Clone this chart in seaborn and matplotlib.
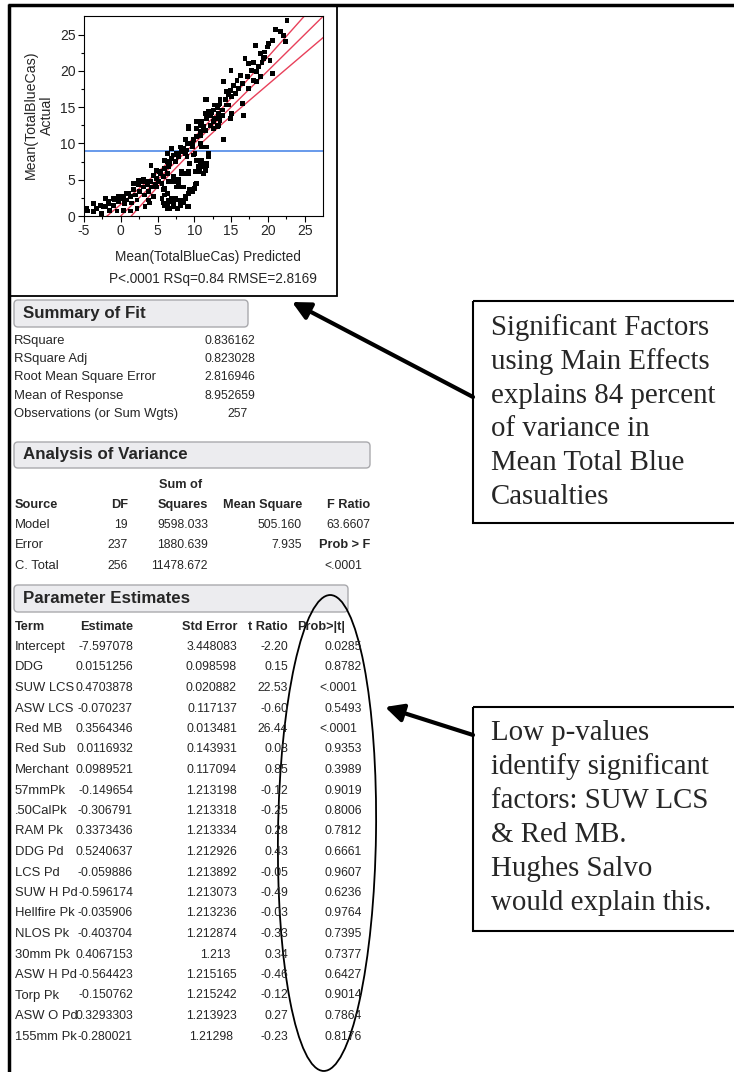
import matplotlib
matplotlib.use("Agg")
import matplotlib.pyplot as plt
import seaborn as sns
import pandas as pd
from matplotlib.patches import FancyBboxPatch, Rectangle, Ellipse

W, H = 734, 1072

# actual by predicted points
pred = [-5.1, -4.5, -3.7, -3.3, -2.8, -2.6, -2.1, -2.0, -1.7, -1.5, -1.0, -0.8, -0.5, -0.3, -0.1,
        0.3, 0.5, 0.8, 1.0, 1.3, 1.5, 1.7, 2.0, 2.2, 2.4, 2.5, 2.9, 3.1, 3.2, 3.5, 3.6, 3.8, 3.9,
        4.0, 4.2, 4.1, 4.5, 4.7, 4.9, 5.1, 5.4, 5.6, 5.8, 4.9, 4.5, 3.8, 3.3, 2.2, 1.3, 0.4, -1.0,
        1.7, 2.4, 3.1, 5.3, 6.0, 6.3, 4.9, 5.8, 5.6, 0.8, 0.35, -4.6, -3.7, -2.4, -1.7, -0.3,
        5.8, 6.0, 6.3, 6.5, 6.7, 6.9, 7.2, 7.4, 7.7, 8.1, 8.3, 8.5, 8.8, 9.0, 9.2, 9.4, 9.7, 10.0,
        10.3, 6.3, 6.0, 6.5, 6.9, 7.2, 7.6, 7.9, 8.3, 8.8, 9.2, 9.4, 8.3, 6.3, 6.5, 6.7, 6.9, 7.2,
        7.4, 7.6, 7.9, 8.1, 8.3, 8.5, 8.8, 9.0, 9.2, 9.0, 9.4, 9.7, 9.9, 10.1, 10.3, 10.6, 10.8,
        11.0, 11.3, 11.5, 11.7, 11.9, 11.7, 11.9, 11.3, 10.7, 10.3, 10.8, 10.8, 11.0,
        6.0, 6.3, 7.2, 6.9, 8.75, 9.0, 9.2, 10.3, 11.0, 11.25, 10.8, 9.7, 9.9, 11.9, 11.7, 10.8,
        10.1, 9.2, 8.3, 7.8, 7.2, 6.5, 7.6, 8.5, 9.7, 10.1, 6.0, 6.9, 7.8, 8.75, 6.3, 7.2, 8.1,
        9.2, 11.5, 12.4, 12.8, 13.5, 14.6, 15.1, 13.3, 11.5,
        10.8, 11.0, 11.3, 11.5, 11.7, 11.7, 11.9, 12.2, 12.6, 12.8, 13.1, 13.3, 13.5, 13.8, 14.0,
        14.0, 14.2, 14.4, 14.7, 14.9, 15.0, 15.1, 15.3, 15.6, 15.8, 16.0, 16.3, 16.5, 16.7, 16.5,
        16.9, 17.2, 17.4, 13.3, 12.6, 13.5, 10.8, 10.3, 12.6, 12.2, 13.1, 13.3, 13.8, 14.4, 14.9,
        18.1, 18.3, 18.5, 18.7, 19.0, 19.2, 19.4, 19.6, 19.9, 20.1, 20.3, 20.6, 20.6, 21.0, 21.7,
        22.1, 22.4, 22.6, 19.0, 19.6, 17.8, 18.1, 17.4, 18.5]
actual = [1.0, 0.7, 1.7, 1.0, 1.5, 0.4, 2.4, 1.3, 2.0, 0.8, 1.5, 2.2, 0.7, 2.0, 2.4,
          2.7, 1.7, 2.2, 3.1, 2.7, 1.8, 3.6, 2.9, 2.2, 4.3, 3.4, 4.7, 4.0, 2.9, 4.7, 4.3, 3.4, 1.8,
          4.7, 4.0, 7.0, 2.7, 4.3, 5.2, 4.7, 5.9, 4.5, 5.4, 6.3, 5.6, 2.2, 1.3, 1.0, 0.7, 0.8, 2.4,
          4.5, 4.9, 5.0, 6.1, 6.6, 7.5, 4.0, 3.6, 2.4, 3.1, 2.4, 1.1, 0.6, 1.3, 1.7, 2.7,
          1.8, 1.5, 1.0, 2.2, 1.0, 2.0, 1.8, 2.4, 1.0, 1.8, 2.2, 1.8, 2.7, 1.3, 3.1, 3.6, 3.4, 3.8,
          4.5, 3.1, 3.8, 4.7, 4.7, 5.4, 4.7, 4.3, 4.0, 5.9, 5.9, 7.2, 5.9, 5.9, 6.8, 7.2, 7.9, 8.4,
          7.5, 8.6, 8.2, 9.5, 8.9, 9.3, 8.6, 9.1, 12.1, 8.2, 10.0, 9.5, 10.5, 8.6, 7.7, 6.8, 6.8,
          7.7, 7.0, 6.3, 7.2, 8.2, 9.5, 8.6, 5.9, 6.1, 10.9, 11.1, 10.0, 9.5,
          7.7, 8.6, 8.4, 9.3, 10.5, 10.0, 12.3, 13.0, 12.5, 11.8, 11.4, 10.0, 8.4, 8.4, 7.0, 7.25,
          6.1, 6.1, 6.1, 5.0, 4.7, 4.7, 4.0, 4.0, 3.6, 4.3, 2.9, 2.4, 2.2, 2.4, 1.75, 1.3, 1.5,
          1.3, 14.1, 14.3, 15.3, 15.5, 15.3, 14.1, 13.4, 16.0,
          12.5, 13.0, 12.3, 11.8, 16.0, 13.4, 14.4, 13.9, 14.6, 13.4, 15.0, 14.1, 13.2, 14.6, 10.5,
          18.5, 16.0, 17.1, 16.7, 17.3, 20.1, 16.5, 18.0, 16.9, 18.7, 17.6, 19.4, 18.3, 13.9, 15.5,
          21.7, 19.2, 17.6, 12.5, 13.0, 16.0, 11.6, 12.1, 12.1, 12.5, 12.3, 15.3, 13.9, 15.3, 13.4,
          21.2, 23.5, 19.9, 20.6, 19.2, 21.2, 21.7, 21.9, 23.3, 23.8, 21.4, 19.6, 24.2, 25.7, 25.4,
          24.9, 24.0, 26.9, 22.4, 22.6, 20.1, 18.7, 21.0, 18.5]

# fit line and its confidence curves
fit_x = [-5, 0, 5, 9, 14, 20, 28]
fit_upper = [-2.7, 1.6, 6.0, 9.8, 15.1, 21.9, 31.0]
fit_lower = [-7.3, -1.6, 4.0, 8.2, 12.9, 18.1, 25.0]

# summary of fit
fit_labels = ["RSquare", "RSquare Adj", "Root Mean Square Error", "Mean of Response",
              "Observations (or Sum Wgts)"]
fit_values = ["0.836162", "0.823028", "2.816946", "8.952659", "257"]
mean_response = 8.952659

# analysis of variance
anova_source = ["Model", "Error", "C. Total"]
anova_df = ["19", "237", "256"]
anova_ss = ["9598.033", "1880.639", "11478.672"]
anova_ms = ["505.160", "7.935", ""]
anova_f = ["63.6607", "Prob > F", "<.0001"]

# parameter estimates
terms = ["Intercept", "DDG", "SUW LCS", "ASW LCS", "Red MB", "Red Sub", "Merchant", "57mmPk",
         ".50CalPk", "RAM Pk", "DDG Pd", "LCS Pd", "SUW H Pd", "Hellfire Pk", "NLOS Pk",
         "30mm Pk", "ASW H Pd", "Torp Pk", "ASW O Pd", "155mm Pk"]
estimates = ["-7.597078", "0.0151256", "0.4703878", "-0.070237", "0.3564346", "0.0116932",
             "0.0989521", "-0.149654", "-0.306791", "0.3373436", "0.5240637", "-0.059886",
             "-0.596174", "-0.035906", "-0.403704", "0.4067153", "-0.564423", "-0.150762",
             "0.3293303", "-0.280021"]
std_errors = ["3.448083", "0.098598", "0.020882", "0.117137", "0.013481", "0.143931",
              "0.117094", "1.213198", "1.213318", "1.213334", "1.212926", "1.213892",
              "1.213073", "1.213236", "1.212874", "1.213", "1.215165", "1.215242",
              "1.213923", "1.21298"]
t_ratios = ["-2.20", "0.15", "22.53", "-0.60", "26.44", "0.08", "0.85", "-0.12", "-0.25",
            "0.28", "0.43", "-0.05", "-0.49", "-0.03", "-0.33", "0.34", "-0.46", "-0.12",
            "0.27", "-0.23"]
p_values = ["0.0285", "0.8782", "<.0001", "0.5493", "<.0001", "0.9353", "0.3989", "0.9019",
            "0.8006", "0.7812", "0.6661", "0.9607", "0.6236", "0.9764", "0.7395", "0.7377",
            "0.6427", "0.9014", "0.7864", "0.8176"]

note_fit = ["Significant Factors", "using Main Effects", "explains 84 percent",
            "of variance in", "Mean Total Blue", "Casualties"]
note_p = ["Low p-values", "identify significant", "factors: SUW LCS", "& Red MB.",
          "Hughes Salvo", "would explain this."]

sns.set_theme(style="ticks")
plt.rcParams["font.family"] = ["Liberation Sans", "DejaVu Sans"]
plt.rcParams["axes.unicode_minus"] = False

fig = plt.figure(figsize=(W / 100, H / 100), dpi=100)

# overlay in pixel coordinates for the report text
ov = fig.add_axes([0, 0, 1, 1])
ov.set_xlim(0, W)
ov.set_ylim(H, 0)
ov.axis("off")

# actual by predicted plot
ax = fig.add_axes([84 / W, 1 - 216 / H, (323 - 84) / W, (216 - 15.7) / H])
df = pd.DataFrame({"pred": pred, "actual": actual})
ax.axhline(mean_response, color="#3f7fe6", lw=1.1, zorder=1)
for ys in (fit_upper, fit_x, fit_lower):
    ax.plot(fit_x, ys, color="#e8405a", lw=1.0, zorder=2)
sns.scatterplot(data=df, x="pred", y="actual", marker="s", s=12, color="black",
                edgecolor="none", ax=ax, zorder=3)
ax.set_xlim(-5, 27.5)
ax.set_ylim(0, 27.6)
ax.set_xticks([-5, 0, 5, 10, 15, 20, 25])
ax.set_yticks([0, 5, 10, 15, 20, 25])
ax.set_xticks([-2.5, 2.5, 7.5, 12.5, 17.5, 22.5], minor=True)
ax.set_yticks([2.5, 7.5, 12.5, 17.5, 22.5], minor=True)
ax.tick_params(which="major", length=4, width=0.8, labelsize=10, pad=2, color="black")
ax.tick_params(which="minor", length=2.5, width=0.8, color="black")
ax.set_xlabel("")
ax.set_ylabel("")
for sp in ax.spines.values():
    sp.set_visible(True)
    sp.set_color("black")
    sp.set_linewidth(0.8)

ov.text(39, 115, "Mean(TotalBlueCas)\nActual", rotation=90, ha="center", va="center",
        fontsize=10.2, linespacing=1.2)
ov.text(208, 257, "Mean(TotalBlueCas) Predicted", ha="center", va="center", fontsize=9.8)
ov.text(213, 279, "P<.0001 RSq=0.84 RMSE=2.8169", ha="center", va="center", fontsize=9.8)

# frame lines
ov.plot([8, W], [5, 5], color="black", lw=2.5, solid_capstyle="butt")
ov.plot([8.5, 8.5], [4, H], color="black", lw=2.5, solid_capstyle="butt")
ov.add_patch(Rectangle((10, 5), 327, 291, fill=False, ec="black", lw=1.3))


def header(x0, y0, x1, y1, label):
    ov.add_patch(FancyBboxPatch((x0, y0), x1 - x0, y1 - y0,
                                boxstyle="round,pad=0,rounding_size=4",
                                fc="#ececef", ec="#a9a9ad", lw=1))
    ov.text(x0 + 9, (y0 + y1) / 2, label, ha="left", va="center", fontsize=12.2,
            fontweight="bold")


fs_lab = 9.4
fs_num = 8.7
fs_head = 9.2

# summary of fit
header(14, 300, 248, 327, "Summary of Fit")
for i, (lab, val) in enumerate(zip(fit_labels, fit_values)):
    y = 341 + i * 18.2
    ov.text(14, y, lab, ha="left", va="center", fontsize=fs_lab)
    ov.text(255 if val != "257" else 248, y, val, ha="right", va="center", fontsize=fs_num)

# analysis of variance
header(14, 442, 370, 468, "Analysis of Variance")
ov.text(202, 485, "Sum of", ha="right", va="center", fontsize=fs_head, fontweight="bold")
for txt, x, ha in [("Source", 15, "left"), ("DF", 128, "right"), ("Squares", 208, "right"),
                   ("Mean Square", 302, "right"), ("F Ratio", 370, "right")]:
    ov.text(x, 505, txt, ha=ha, va="center", fontsize=fs_head, fontweight="bold")
for i in range(3):
    y = 525 + i * 20.5
    ov.text(15, y, anova_source[i], ha="left", va="center", fontsize=fs_lab)
    ov.text(128, y, anova_df[i], ha="right", va="center", fontsize=fs_num)
    ov.text(208, y, anova_ss[i], ha="right", va="center", fontsize=fs_num)
    ov.text(302, y, anova_ms[i], ha="right", va="center", fontsize=fs_num)
    bold = anova_f[i] == "Prob > F"
    xr = 362 if anova_f[i].startswith("<") else 370
    ov.text(xr, y, anova_f[i], ha="right", va="center",
            fontsize=fs_head if bold else fs_num, fontweight="bold" if bold else "normal")

# parameter estimates
header(14, 585, 348, 612, "Parameter Estimates")
for txt, x, ha in [("Term", 15, "left"), ("Estimate", 133, "right"), ("Std Error", 237, "right"),
                   ("t Ratio", 288, "right"), ("Prob>|t|", 345, "right")]:
    ov.text(x, 627, txt, ha=ha, va="center", fontsize=fs_head, fontweight="bold")
for i in range(len(terms)):
    y = 647 + i * 20.5
    ov.text(15, y, terms[i], ha="left", va="center", fontsize=fs_lab)
    ov.text(133, y, estimates[i], ha="right", va="center", fontsize=fs_num)
    xs = 237 if len(std_errors[i]) >= 8 else (233 if len(std_errors[i]) == 7 else 230)
    ov.text(xs, y, std_errors[i], ha="right", va="center", fontsize=fs_num)
    ov.text(288, y, t_ratios[i], ha="right", va="center", fontsize=fs_num)
    xp = 357 if p_values[i].startswith("<") else 362
    ov.text(xp, y, p_values[i], ha="right", va="center", fontsize=fs_num)

# hand-drawn ellipse round the p-values
ov.add_patch(Ellipse((327, 833), 98, 476, angle=0.8, fill=False, ec="black", lw=1.3))

# callout boxes
serif = ["Liberation Serif", "DejaVu Serif"]
ov.add_patch(Rectangle((473, 301), W - 473 + 2, 222, fill=False, ec="black", lw=1.5))
for i, line in enumerate(note_fit):
    ov.text(491, 328 + i * 33.8, line, ha="left", va="center", fontsize=20.8, family=serif)
ov.add_patch(Rectangle((473, 707), W - 473 + 2, 224, fill=False, ec="black", lw=1.5))
for i, line in enumerate(note_p):
    ov.text(491, 733 + i * 34.0, line, ha="left", va="center", fontsize=20.8, family=serif)

arrow = dict(arrowstyle="-|>,head_length=0.9,head_width=0.45", color="black", lw=3,
             shrinkA=0, shrinkB=0)
ov.annotate("", xy=(292, 302), xytext=(473, 397), arrowprops=arrow)
ov.annotate("", xy=(385, 707), xytext=(473, 735), arrowprops=arrow)

fig.savefig("out.png", dpi=100)
